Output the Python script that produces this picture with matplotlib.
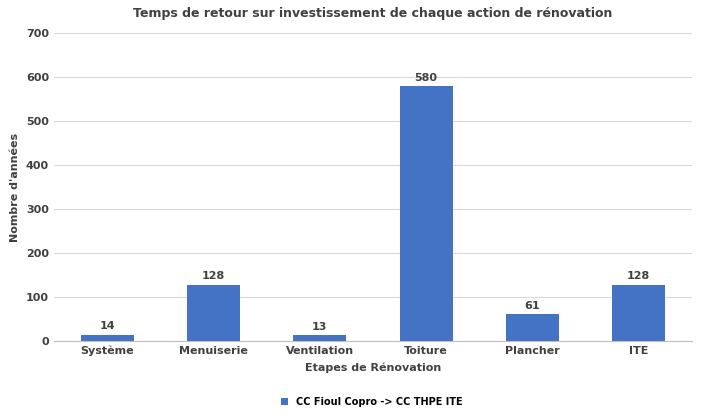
import matplotlib.pyplot as plt

categories = ["Système", "Menuiserie", "Ventilation", "Toiture", "Plancher", "ITE"]
values = [14, 128, 13, 580, 61, 128]
series_name = "CC Fioul Copro -> CC THPE ITE"

fig = plt.figure(figsize=(7.01, 4.16), dpi=100)
ax = fig.add_axes([0.077, 0.18, 0.91, 0.74])
x = range(len(categories))
bars = ax.bar(x, values, width=0.5, color="#4472C4", label=series_name, zorder=2)
for xi, v in zip(x, values):
    ax.text(xi, v + 8, str(v), ha="center", va="bottom", fontsize=8, fontweight="bold", color="#404040")

ax.set_xlim(-0.5, len(categories) - 0.5)
ax.set_ylim(0, 700)
ax.set_yticks(range(0, 701, 100))
ax.set_xticks(list(x))
ax.set_xticklabels(categories)
ax.tick_params(axis="both", labelsize=8, colors="#404040", length=0)
for lbl in ax.get_xticklabels() + ax.get_yticklabels():
    lbl.set_fontweight("bold")
ax.grid(axis="y", color="#D9D9D9", linewidth=0.8, zorder=0)
for s in ["top", "right", "left"]:
    ax.spines[s].set_visible(False)
ax.spines["bottom"].set_color("#BFBFBF")

ax.set_title("Temps de retour sur investissement de chaque action de rénovation",
             fontsize=9, fontweight="bold", color="#404040", pad=12)
ax.set_xlabel("Etapes de Rénovation", fontsize=8, fontweight="bold", color="#404040", labelpad=4)
ax.set_ylabel("Nombre d'années", fontsize=8, fontweight="bold", color="#404040")
fig.legend(loc="lower center", bbox_to_anchor=(0.53, 0.0), frameon=False, fontsize=7,
           handlelength=0.7, handleheight=0.7, prop={"weight": "bold", "size": 7})

fig.savefig("out.png", dpi=100)
